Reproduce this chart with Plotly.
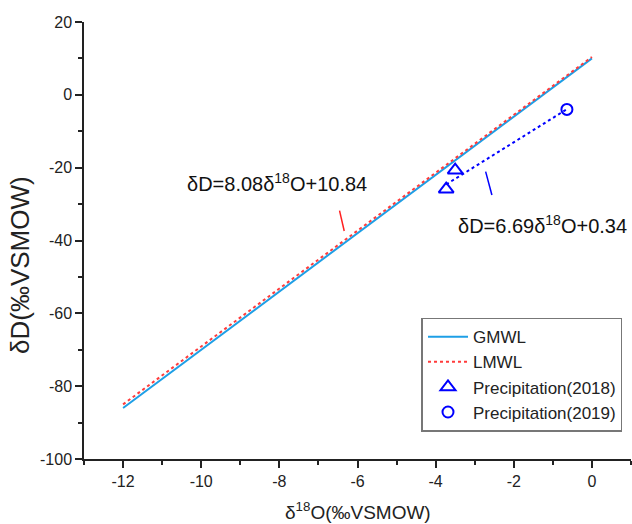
import plotly.graph_objects as go

# Data
gmwl_x = [-12, 0]
gmwl_y = [-86, 10]
lmwl_x = [-12, 0]
lmwl_y = [-85, 10.4]
p2018_x = [-3.5, -3.73]
p2018_y = [-20.7, -25.9]
p2019_x = [-0.64]
p2019_y = [-4.0]
fit_x = [-3.73, -0.64]
fit_y = [-24.6, -3.94]
mark_lmwl_x = [-6.46, -6.34]
mark_lmwl_y = [-31.8, -37.4]
mark_fit_x = [-2.72, -2.56]
mark_fit_y = [-21.1, -27.5]
x_ticks = [-12, -10, -8, -6, -4, -2, 0]
x_ticktext = ["-12", "-10", "-8", "-6", "-4", "-2", "0"]
y_ticks = [-100, -80, -60, -40, -20, 0, 20]
y_ticktext = ["-100", "-80", "-60", "-40", "-20", "0", "20"]

FONT = "Liberation Sans, Arial, sans-serif"
BLUE = "#0000FF"

fig = go.Figure()
fig.add_trace(go.Scatter(x=gmwl_x, y=gmwl_y, mode="lines", name="GMWL",
                         line=dict(color="#1E9FE6", width=2)))
fig.add_trace(go.Scatter(x=lmwl_x, y=lmwl_y, mode="lines", name="LMWL",
                         line=dict(color="#FF3B3B", width=2, dash="dot")))
fig.add_trace(go.Scatter(x=fit_x, y=fit_y, mode="lines", showlegend=False,
                         line=dict(color=BLUE, width=2, dash="dot")))
fig.add_trace(go.Scatter(x=p2018_x, y=p2018_y, mode="markers", name="Precipitation(2018)",
                         marker=dict(symbol="triangle-up-open", size=13, color=BLUE,
                                     line=dict(width=2, color=BLUE))))
fig.add_trace(go.Scatter(x=p2019_x, y=p2019_y, mode="markers", name="Precipitation(2019)",
                         marker=dict(symbol="circle-open", size=11, color=BLUE,
                                     line=dict(width=2, color=BLUE))))
fig.add_trace(go.Scatter(x=mark_lmwl_x, y=mark_lmwl_y, mode="lines", showlegend=False,
                         line=dict(color="#FF2020", width=1.5)))
fig.add_trace(go.Scatter(x=mark_fit_x, y=mark_fit_y, mode="lines", showlegend=False,
                         line=dict(color=BLUE, width=1.5)))

fig.add_annotation(x=-10.41, y=-24.1, xref="x", yref="y", xanchor="left", yanchor="middle",
                   text="δD=8.08δ<sup>18</sup>O+10.84", showarrow=False,
                   font=dict(size=20, color="#111111", family=FONT))
fig.add_annotation(x=-3.48, y=-35.5, xref="x", yref="y", xanchor="left", yanchor="middle",
                   text="δD=6.69δ<sup>18</sup>O+0.34", showarrow=False,
                   font=dict(size=20, color="#111111", family=FONT))
fig.add_annotation(x=0.5, y=-0.12, xref="paper", yref="paper", xanchor="center", yanchor="middle",
                   text="δ<sup>18</sup>O(‰VSMOW)", showarrow=False,
                   font=dict(size=19, color="#222222", family=FONT))
fig.add_annotation(x=-0.117, y=0.444, xref="paper", yref="paper", xanchor="center", yanchor="middle",
                   text="δD(‰VSMOW)", showarrow=False, textangle=-90,
                   font=dict(size=26, color="#222222", family=FONT))

axis_common = dict(showline=True, linecolor="#222222", linewidth=1.5, showgrid=False,
                   zeroline=False, ticks="outside", ticklen=7, tickwidth=1.5, tickcolor="#222222",
                   tickfont=dict(size=16, color="#222222", family=FONT), mirror=False)
fig.update_xaxes(range=[-13, 1], tickvals=x_ticks, ticktext=x_ticktext,
                 minor=dict(dtick=1, ticks="outside", ticklen=4, tickwidth=1.5, tickcolor="#222222"),
                 **axis_common)
fig.update_yaxes(range=[-100, 20], tickvals=y_ticks, ticktext=y_ticktext,
                 minor=dict(dtick=10, ticks="outside", ticklen=4, tickwidth=1.5, tickcolor="#222222"),
                 **axis_common)

fig.update_layout(
    width=632, height=524,
    margin=dict(l=84, r=1, t=22, b=65),
    plot_bgcolor="white", paper_bgcolor="white",
    font=dict(family=FONT, color="#222222"),
    legend=dict(x=0.617, y=0.193, xanchor="left", yanchor="middle",
                bordercolor="#777777", borderwidth=1.5, bgcolor="white",
                font=dict(size=17, family=FONT, color="#222222"),
                tracegroupgap=0, itemwidth=40),
)
fig.write_html("out.html")
